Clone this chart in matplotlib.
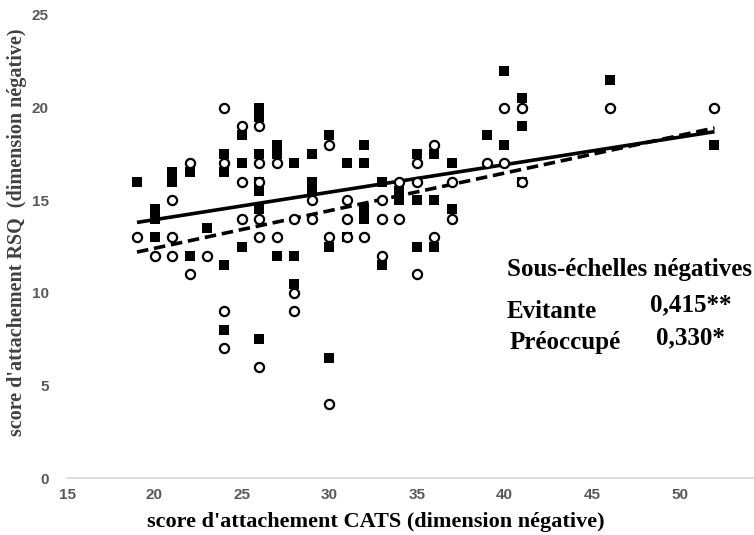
import matplotlib
matplotlib.use("Agg")
import matplotlib.pyplot as plt

# Evitante (filled squares)
evit_x = [19, 20, 20, 20, 21, 21, 22, 22, 23, 24, 24, 24, 24,
          25, 25, 25, 26, 26, 26, 26, 26, 26, 26,
          27, 27, 27, 28, 28, 28, 29, 29, 29, 30, 30, 30,
          31, 31, 32, 32, 32, 32, 33, 33, 34, 34, 35, 35, 35,
          36, 36, 36, 37, 37, 39, 40, 40, 41, 41, 41, 46, 52]
evit_y = [16, 14.5, 14, 13, 16.5, 16, 16.5, 12, 13.5, 17.5, 16.5, 11.5, 8,
          18.5, 17, 12.5, 20, 19.5, 17.5, 16, 15.5, 14.5, 7.5,
          18, 17.5, 12, 17, 12, 10.5, 17.5, 16, 15.5, 18.5, 12.5, 6.5,
          17, 13, 18, 17, 14.5, 14, 16, 11.5, 15.5, 15, 17.5, 15, 12.5,
          17.5, 15, 12.5, 17, 14.5, 18.5, 22, 18, 20.5, 19, 16, 21.5, 18]

# Préoccupé (open circles)
preo_x = [19, 20, 21, 21, 21, 22, 22, 23, 24, 24, 24, 24,
          25, 25, 25, 26, 26, 26, 26, 26, 26, 27, 27,
          28, 28, 28, 29, 29, 30, 30, 30, 31, 31, 31, 32,
          33, 33, 33, 34, 34, 35, 35, 35, 36, 36, 37, 37,
          39, 40, 40, 41, 41, 46, 52]
preo_y = [13, 12, 15, 13, 12, 17, 11, 12, 20, 17, 9, 7,
          19, 16, 14, 19, 17, 16, 14, 13, 6, 17, 13,
          14, 10, 9, 15, 14, 18, 13, 4, 15, 14, 13, 13,
          15, 14, 12, 16, 14, 17, 16, 11, 18, 13, 16, 14,
          17, 20, 17, 20, 16, 20, 20]

# Trend lines
trend_x = [19, 52]
trend_evit = [13.8, 18.7]
trend_preo = [12.2, 18.9]

x_ticks = [15, 20, 25, 30, 35, 40, 45, 50]
y_ticks = [0, 5, 10, 15, 20, 25]

W, H = 754, 535
fig = plt.figure(figsize=(W / 100, H / 100), dpi=100)
ax = fig.add_axes([67 / W, 1 - 478 / H, (767 - 67) / W, (478 - 15) / H])
ax.set_xlim(15, 55)
ax.set_ylim(0, 25)

ax.plot(trend_x, trend_evit, color="black", lw=2.6, solid_capstyle="butt", zorder=2)
ax.plot(trend_x, trend_preo, color="black", lw=2.6, ls=(0, (3.2, 1.6)), zorder=2)

ax.plot(evit_x, evit_y, ls="none", marker="s", ms=6.9, mfc="black", mec="black",
        mew=0, zorder=3, clip_on=False)
ax.plot(preo_x, preo_y, ls="none", marker="o", ms=6.6, mfc="white", mec="black",
        mew=1.6, zorder=4, clip_on=False)

for s in ["top", "right", "left"]:
    ax.spines[s].set_visible(False)
ax.spines["bottom"].set_color("#d9d9d9")
ax.spines["bottom"].set_linewidth(1.3)

ax.set_xticks(x_ticks)
ax.set_yticks(y_ticks)
ax.tick_params(axis="both", length=0, labelsize=11, labelcolor="#595959")
ax.tick_params(axis="x", pad=7)
ax.tick_params(axis="y", pad=13)
for lab in ax.get_xticklabels() + ax.get_yticklabels():
    lab.set_fontweight("bold")
    lab.set_family("Liberation Sans")

serif = "Liberation Serif"
fig.text(376 / W, 1 - 522 / H, "score d'attachement CATS (dimension négative)",
         ha="center", va="center", fontsize=16, fontweight="bold", family=serif,
         color="black")
fig.text(17 / W, 1 - 232 / H, "score d'attachement RSQ  (dimension négative)",
         ha="center", va="center", rotation=90, fontsize=14.5, fontweight="bold",
         family=serif, color="#404040")

fs = 18
fig.text(507 / W, 1 - 270 / H, "Sous-échelles négatives", ha="left", va="center",
         fontsize=fs, fontweight="bold", family=serif, color="black")
fig.text(507 / W, 1 - 311 / H, "Evitante", ha="left", va="center",
         fontsize=fs, fontweight="bold", family=serif, color="black")
fig.text(650 / W, 1 - 305 / H, "0,415**", ha="left", va="center",
         fontsize=fs, fontweight="bold", family=serif, color="black")
fig.text(510 / W, 1 - 342 / H, "Préoccupé", ha="left", va="center",
         fontsize=fs, fontweight="bold", family=serif, color="black")
fig.text(656 / W, 1 - 338 / H, "0,330*", ha="left", va="center",
         fontsize=fs, fontweight="bold", family=serif, color="black")

fig.savefig("out.png", dpi=100)
